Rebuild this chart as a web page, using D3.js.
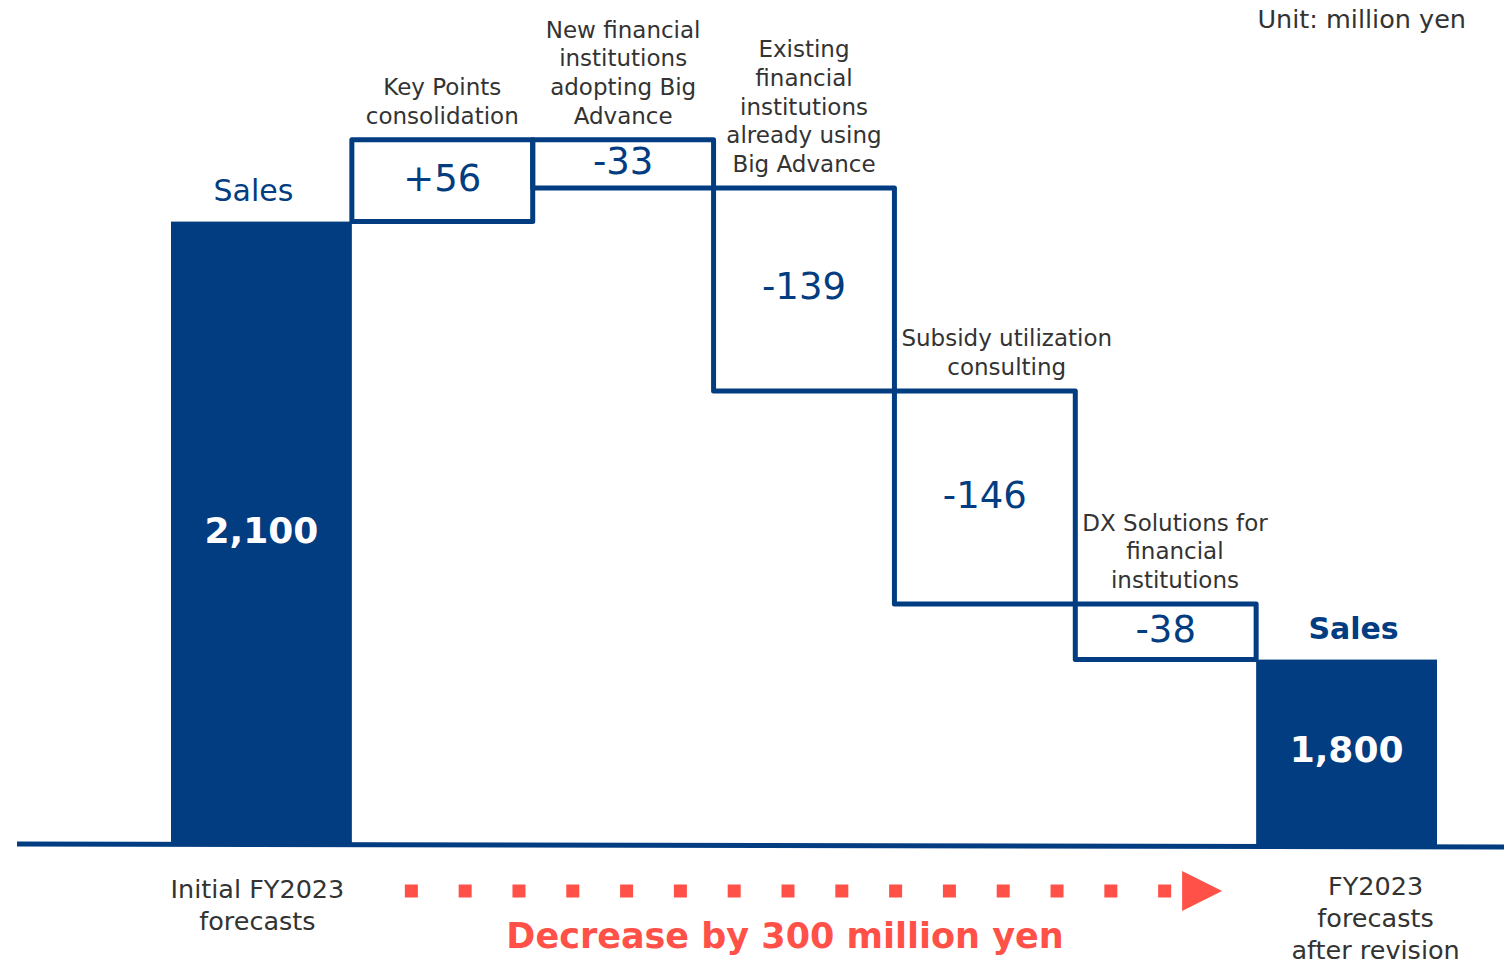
<!DOCTYPE html>
<html>
<head>
<meta charset="utf-8">
<script src="https://cdn.jsdelivr.net/npm/d3@7"></script>
<style>
  html, body { margin: 0; padding: 0; background: #ffffff; }
  svg { display: block; font-family: "DejaVu Sans", Verdana, sans-serif; }
</style>
</head>
<body>
<svg id="chart" width="1512" height="966"></svg>
<script>
// ---- data (million yen) ----
const startValue = 2100;
const endValue = 1800;
const stepKeys = ["kp", "nfi", "efi", "sub", "dx"];
const stepValues = [56, -33, -139, -146, -38];
const stepLabels = [
  ["Key Points", "consolidation"],
  ["New financial", "institutions", "adopting Big", "Advance"],
  ["Existing", "financial", "institutions", "already using", "Big Advance"],
  ["Subsidy utilization", "consulting"],
  ["DX Solutions for", "financial", "institutions"]
];
const categories = ["initial", ...stepKeys, "revised"];
const totalTitle = "Sales";
const totalLabels = [
  ["Initial FY2023", "forecasts"],
  ["FY2023", "forecasts", "after revision"]
];
const unitLabel = "Unit: million yen";
const changeLabel = "Decrease by 300 million yen";

// ---- style ----
const BLUE = "#023c81";
const RED = "#ff5148";
const TEXT = "#333333";

const svg = d3.select("#chart");

// horizontal positions: one band per column
const x = d3.scaleBand().domain(categories).range([171, 1437]).paddingInner(0).paddingOuter(0);
// vertical value scale (axis broken below the baseline)
const y = d3.scaleLinear().domain([1673, 2160]).range([845, 134]);
const baseY = y(1673);

const fmtTotal = d3.format(",");
const fmtStep = v => (v > 0 ? "+" : "-") + Math.abs(v);

// running levels for the waterfall steps
let level = startValue;
const steps = stepKeys.map((k, i) => {
  const from = level;
  const to = level + stepValues[i];
  level = to;
  return { key: k, value: stepValues[i], from, to, label: stepLabels[i] };
});

// ---- baseline ----
svg.append("line")
  .attr("x1", 17).attr("x2", 1504)
  .attr("y1", baseY - 1).attr("y2", baseY + 2)
  .attr("stroke", BLUE).attr("stroke-width", 5);

// ---- total bars ----
const totals = [
  { key: "initial", value: startValue, bold: false, sub: totalLabels[0], dxTitle: -8, dxSub: -4 },
  { key: "revised", value: endValue, bold: true, sub: totalLabels[1], dxTitle: 7, dxSub: 29 }
];

svg.selectAll("rect.total").data(totals).join("rect")
  .attr("class", "total")
  .attr("x", d => x(d.key))
  .attr("y", d => y(d.value))
  .attr("width", x.bandwidth())
  .attr("height", d => baseY - y(d.value))
  .attr("fill", BLUE);

svg.selectAll("text.total-value").data(totals).join("text")
  .attr("class", "total-value")
  .attr("x", d => x(d.key) + x.bandwidth() / 2)
  .attr("y", d => (y(d.value) + baseY) / 2 + 10)
  .attr("text-anchor", "middle")
  .attr("font-size", 36).attr("font-weight", "bold")
  .attr("fill", "#ffffff")
  .text(d => fmtTotal(d.value));

svg.selectAll("text.total-title").data(totals).join("text")
  .attr("class", "total-title")
  .attr("x", d => x(d.key) + x.bandwidth() / 2 + d.dxTitle)
  .attr("y", d => y(d.value) - 21)
  .attr("text-anchor", "middle")
  .attr("font-size", 30)
  .attr("font-weight", d => d.bold ? "bold" : "normal")
  .attr("fill", BLUE)
  .text(totalTitle);

// category labels under the totals
totals.forEach(d => {
  const t = svg.append("text")
    .attr("text-anchor", "middle")
    .attr("font-size", 25.5)
    .attr("fill", TEXT);
  d.sub.forEach((line, i) => {
    t.append("tspan")
      .attr("x", x(d.key) + x.bandwidth() / 2 + d.dxSub)
      .attr("y", (d.bold ? 895 : 898) + i * 32)
      .text(line);
  });
});

// ---- step boxes ----
svg.selectAll("rect.step").data(steps).join("rect")
  .attr("class", "step")
  .attr("x", d => x(d.key))
  .attr("y", d => y(Math.max(d.from, d.to)))
  .attr("width", x.bandwidth())
  .attr("height", d => Math.abs(y(d.from) - y(d.to)))
  .attr("fill", "none")
  .attr("stroke", BLUE)
  .attr("stroke-width", 5)
  .attr("stroke-linejoin", "round");

svg.selectAll("text.step-value").data(steps).join("text")
  .attr("class", "step-value")
  .attr("x", d => x(d.key) + x.bandwidth() / 2)
  .attr("y", d => (y(d.from) + y(d.to)) / 2 + 10)
  .attr("text-anchor", "middle")
  .attr("font-size", 37)
  .attr("fill", BLUE)
  .text(d => fmtStep(d.value));

// step names above each box
steps.forEach(d => {
  const top = y(Math.max(d.from, d.to));
  const x0 = x(d.key);
  const t = svg.append("text")
    .attr("text-anchor", "middle")
    .attr("font-size", 23)
    .attr("fill", TEXT);
  const n = d.label.length;
  const spans = d.label.map((line, i) =>
    t.append("tspan")
      .attr("y", top - 16 - (n - 1 - i) * 28.75)
      .text(line));
  // keep wide labels clear of the previous box edge
  const w = d3.max(spans, s => s.node().getComputedTextLength());
  let cx = x0 + x.bandwidth() / 2;
  if (cx - w / 2 < x0 + 7) cx = x0 + 7 + w / 2;
  spans.forEach(s => s.attr("x", cx));
});

// ---- unit note ----
svg.append("text")
  .attr("x", 1466).attr("y", 28)
  .attr("text-anchor", "end")
  .attr("font-size", 25.5)
  .attr("fill", TEXT)
  .text(unitLabel);

// ---- dotted arrow showing the overall change ----
const arrowStart = x("initial") + x.bandwidth() + 53;
const arrowEnd = x("revised") - 34;
const dotCount = 15;
const dotSize = 13;
const dotY = 891;
const dotStep = (arrowEnd - 64 - arrowStart) / (dotCount - 1);
svg.selectAll("rect.dot").data(d3.range(dotCount)).join("rect")
  .attr("class", "dot")
  .attr("x", i => arrowStart + i * dotStep)
  .attr("y", dotY - dotSize / 2)
  .attr("width", dotSize).attr("height", dotSize)
  .attr("fill", RED);

svg.append("path")
  .attr("d", d3.line()([[arrowEnd - 40, dotY - 20], [arrowEnd, dotY], [arrowEnd - 40, dotY + 20]]) + "Z")
  .attr("fill", RED);

svg.append("text")
  .attr("x", 785).attr("y", 948)
  .attr("text-anchor", "middle")
  .attr("font-size", 35).attr("font-weight", "bold")
  .attr("fill", RED)
  .text(changeLabel);
</script>
</body>
</html>
